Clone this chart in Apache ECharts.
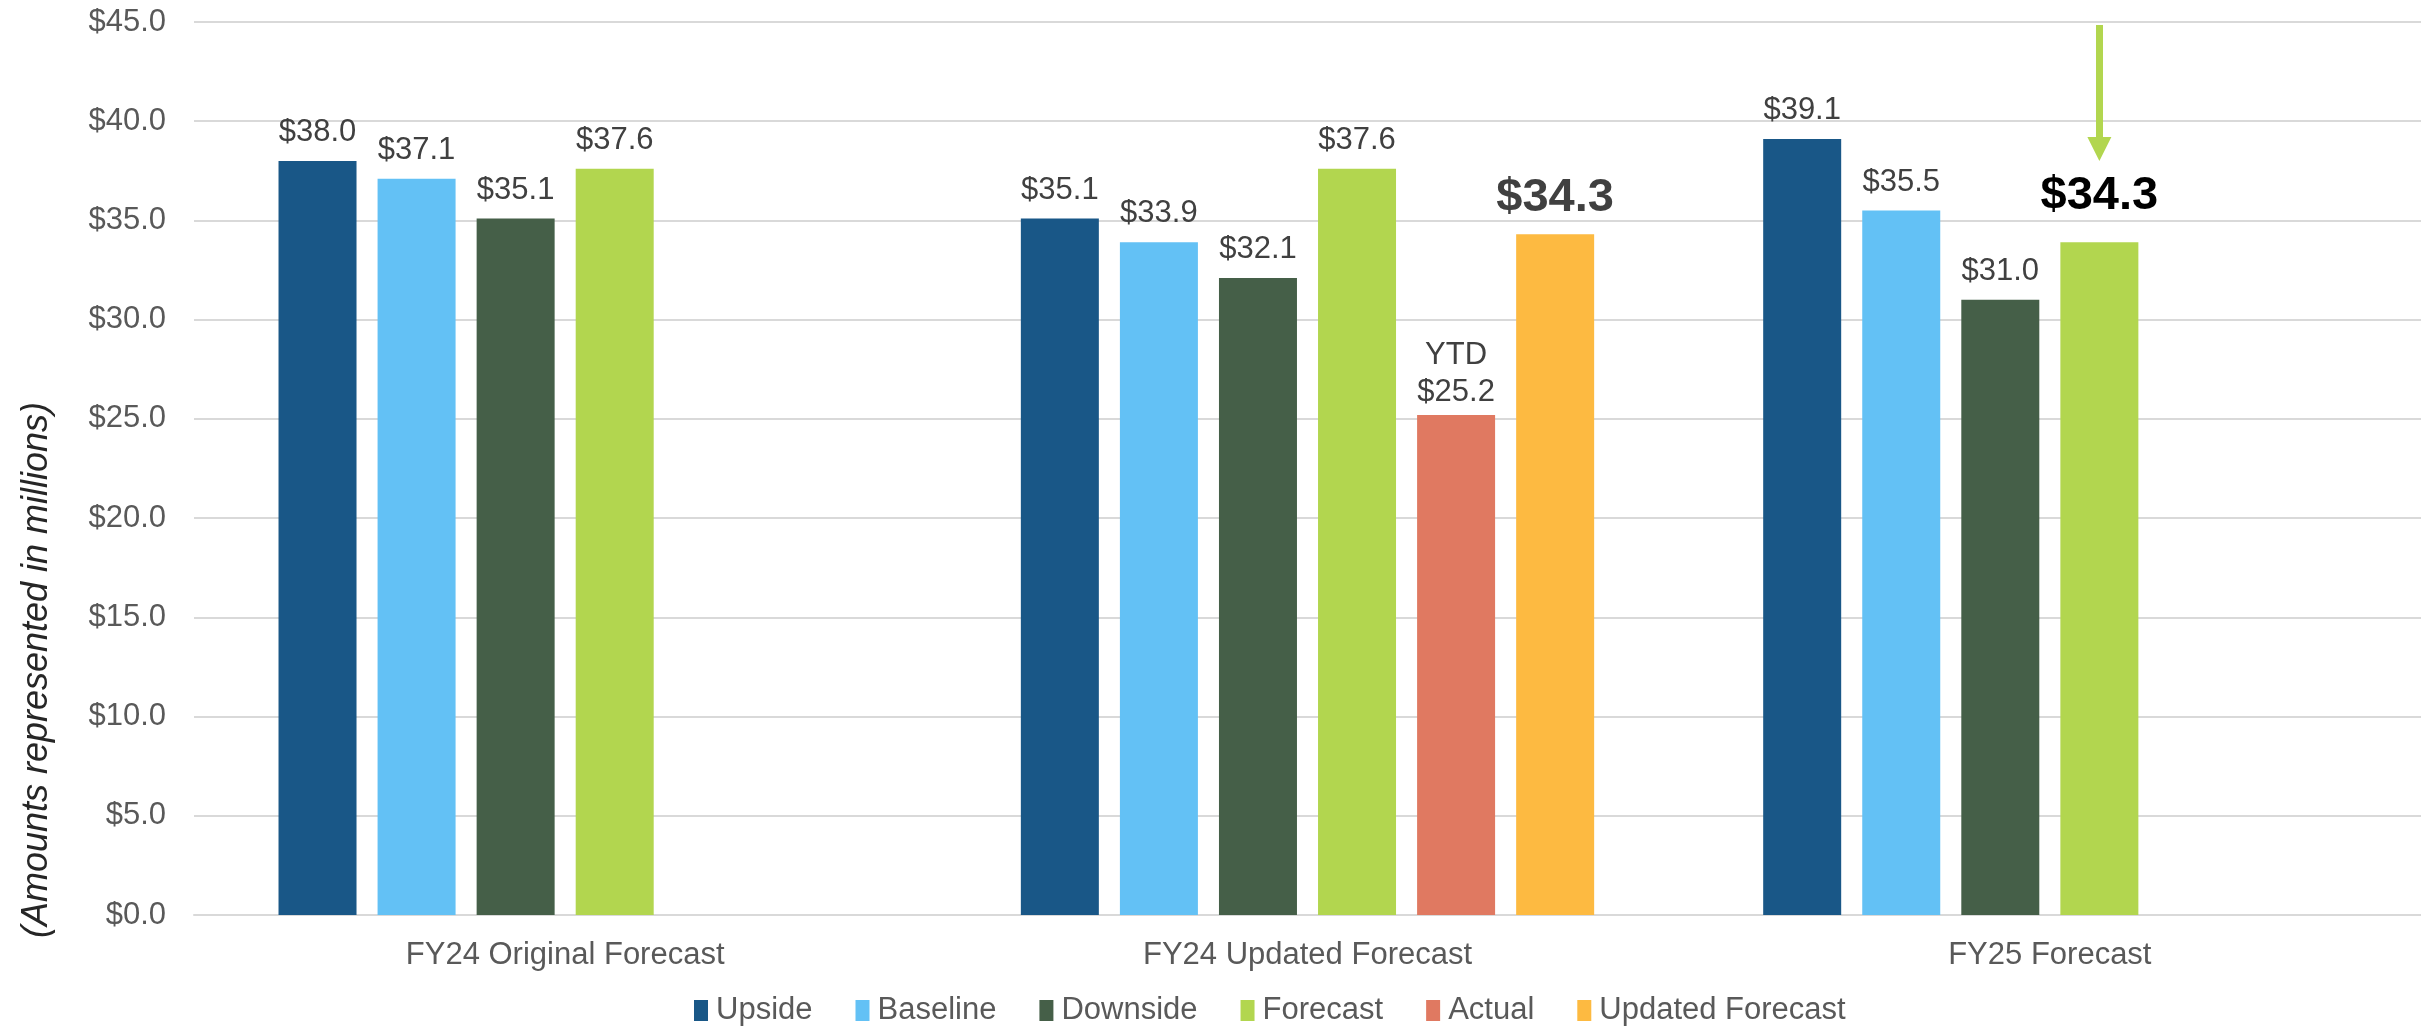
<!DOCTYPE html>
<html>
<head>
<meta charset="utf-8">
<script src="https://cdn.jsdelivr.net/npm/echarts@6/dist/echarts.min.js"></script>
<style>
html,body{margin:0;padding:0;background:#fff;}
#chart{width:2421px;height:1032px;}
</style>
</head>
<body>
<div id="chart"></div>
<script>
const categories = ['FY24 Original Forecast', 'FY24 Updated Forecast', 'FY25 Forecast'];
const seriesNames = ['Upside', 'Baseline', 'Downside', 'Forecast', 'Actual', 'Updated Forecast'];
const upside = [38.0, 35.1, 39.1];
const baseline = [37.1, 33.9, 35.5];
const downside = [35.1, 32.1, 31.0];
const forecast = [37.6, 37.6, 33.9];
const forecastLabels = ['$37.6', '$37.6', '$34.3'];
const actual = [null, 25.2, null];
const actualLabels = ['', 'YTD\n$25.2', ''];
const updatedForecast = [null, 34.3, null];
const yTicks = [0, 5, 10, 15, 20, 25, 30, 35, 40, 45];
const arrowFrom = 44.85;
const arrowTo = 38.6;

const colors = ['#195787', '#63c1f5', '#455f48', '#b2d64f', '#e07961', '#fdba41'];
const FONT = "'Liberation Sans', Arial, sans-serif";
const fmt = v => '$' + Number(v).toFixed(1);

const chart = echarts.init(document.getElementById('chart'), null, {renderer: 'canvas'});

const baseLabel = {
  show: true, position: 'top', distance: 13,
  fontFamily: FONT, fontSize: 31, color: '#404040',
  formatter: p => (p.value == null ? '' : fmt(p.value))
};

function makeBar(name, values, color, extra) {
  return Object.assign({
    name: name, type: 'bar', data: values,
    barWidth: 78, barGap: '27%',
    itemStyle: {color: color},
    label: baseLabel,
    emphasis: {disabled: true},
    animation: false
  }, extra || {});
}

const series = [
  makeBar(seriesNames[0], upside, colors[0]),
  makeBar(seriesNames[1], baseline, colors[1]),
  makeBar(seriesNames[2], downside, colors[2]),
  makeBar(seriesNames[3], forecast.map((v, i) => i === 2 ? {
      value: v,
      label: {fontSize: 47, fontWeight: 'bold', color: '#000000', distance: 23}
    } : v), colors[3], {
    label: Object.assign({}, baseLabel, {formatter: p => forecastLabels[p.dataIndex]}),
    markLine: {
      silent: true,
      animation: false,
      symbol: ['none', 'triangle'],
      symbolSize: 24,
      label: {show: false},
      lineStyle: {color: colors[3], width: 7, type: 'solid'},
      itemStyle: {color: colors[3]},
      emphasis: {disabled: true},
      data: [[{coord: [categories[2], arrowFrom]}, {coord: [categories[2], arrowTo]}]]
    }
  }),
  makeBar(seriesNames[4], actual, colors[4], {
    label: Object.assign({}, baseLabel, {
      distance: 4, lineHeight: 37,
      formatter: p => actualLabels[p.dataIndex]
    })
  }),
  makeBar(seriesNames[5], updatedForecast, colors[5], {
    label: Object.assign({}, baseLabel, {fontSize: 47, fontWeight: 'bold', distance: 13})
  })
];

chart.setOption({
  animation: false,
  color: colors,
  textStyle: {fontFamily: FONT},
  grid: {left: 194, right: -9, top: 22, bottom: 117, containLabel: false},
  legend: {
    data: seriesNames,
    left: 694, top: 995, padding: 0,
    itemWidth: 14, itemHeight: 21, itemGap: 43,
    icon: 'rect',
    textStyle: {fontFamily: FONT, fontSize: 31, color: '#595959', padding: [0, 0, 0, 3]},
    selectedMode: false
  },
  xAxis: {
    type: 'category',
    data: categories,
    axisTick: {show: false},
    axisLine: {show: true, lineStyle: {color: '#d9d9d9', width: 2}},
    axisLabel: {fontFamily: FONT, fontSize: 31, color: '#595959', margin: 25},
    splitLine: {show: false}
  },
  yAxis: {
    type: 'value',
    min: yTicks[0], max: yTicks[yTicks.length - 1], interval: yTicks[1] - yTicks[0],
    axisLine: {show: false},
    axisTick: {show: false},
    axisLabel: {fontFamily: FONT, fontSize: 31, color: '#595959', margin: 28, formatter: v => fmt(v)},
    splitLine: {lineStyle: {color: '#d9d9d9', width: 2}}
  },
  graphic: [{
    type: 'text',
    x: 37, y: 670,
    rotation: Math.PI / 2,
    style: {
      text: '(Amounts represented in millions)',
      x: 0, y: 0,
      align: 'center', verticalAlign: 'middle',
      fontFamily: FONT, fontSize: 36, fontStyle: 'italic', fill: '#262626'
    }
  }],
  series: series
});
</script>
</body>
</html>
